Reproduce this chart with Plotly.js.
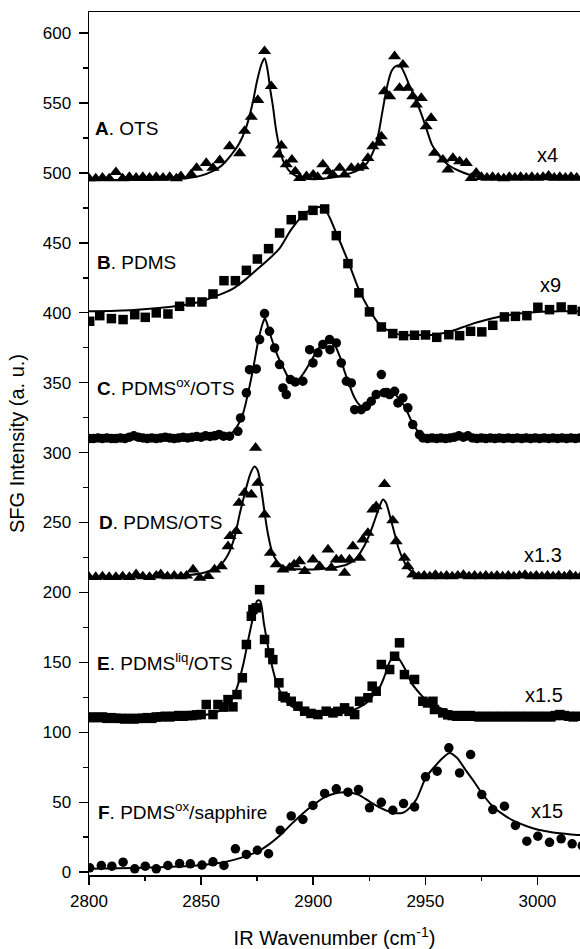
<!DOCTYPE html>
<html>
<head>
<meta charset="utf-8">
<script src="https://cdn.plot.ly/plotly-3.0.1.min.js"></script>
<style>
html,body{margin:0;padding:0;background:#fff;}
#chart{width:580px;height:949px;}
</style>
</head>
<body>
<div id="chart"></div>
<script>
// ---------- data (x = IR wavenumber, y = SFG intensity, offset/scaled as plotted) ----------
const otsPoints = [[2800,496],[2803,496],[2806,496.5],[2809,496],[2812,500.5],[2815,496],[2818,497],[2821,496.5],[2824,497],[2827,496.5],[2830,497],[2833,496.5],[2836,497],[2839,496],[2841,497.5],[2845.6,499],[2848,503.5],[2852.3,507],[2855.3,503.5],[2858.3,509],[2862.7,519],[2867.2,514],[2869.4,530],[2872.4,540],[2875.3,552],[2878.3,587],[2881.3,562],[2884.5,513],[2885.8,519.5],[2888,506],[2890.5,509.4],[2892,501],[2894,496.3],[2897,497.5],[2900,498.7],[2902,497],[2904.3,506],[2906.6,501],[2908.8,498.7],[2911.8,503.5],[2914,498.7],[2917,503.5],[2920,503.5],[2922.2,504.6],[2924.4,510.6],[2926.6,519],[2929.6,521.4],[2930.4,526],[2931.8,558.3],[2934.1,554.7],[2936.3,583.3],[2938.5,560.7],[2940,577.3],[2942.2,560.7],[2944.4,554.7],[2946,548.8],[2948.2,553.5],[2950.4,533.2],[2952.6,539.2],[2954.1,514.2],[2957.8,509.4],[2960.1,502.3],[2962.3,510.6],[2965.3,508.2],[2968.3,507],[2970.5,496.3],[2972.7,500],[2975,497],[2977.5,496.5],[2980,497],[2982.5,496.5],[2985,496],[2987.5,497],[2990,496.5],[2992.5,497],[2995,496.5],[2997.5,497],[3000,496.5],[3002.5,497],[3005,498],[3007.5,496.5],[3010,497],[3012.5,496.5],[3015,497],[3017.5,496.5]];
const otsFit = [[2800,495],[2830,495],[2845,496.5],[2850,498],[2855,501],[2859,505],[2863,512],[2867,521],[2870,532],[2873,550],[2875,566],[2877,578],[2878.3,582],[2879.5,575],[2881,558],[2882,548],[2883.5,530],[2885,518],[2886.5,509],[2889,502],[2892,498],[2896,496],[2900,495.5],[2905,496],[2910,497],[2915,499],[2920,502],[2924,507],[2927,516],[2929,527],[2931,545],[2933,562],[2935,573],[2937,576.5],[2939,576],[2941,570],[2943,562],[2945,555],[2948,543],[2950.4,532],[2953,520],[2956.3,512],[2960,506],[2965,501.5],[2970,498.5],[2975,497],[2985,496],[3000,495.5],[3020,495.5]];

const pdmsPoints = [[2800.3,393.9],[2804.8,397.9],[2810,395.8],[2815.2,395.1],[2820.4,398.6],[2825.1,396.7],[2830,399.9],[2835.2,399.1],[2840.4,404.6],[2845.2,407.7],[2850.4,407.7],[2855.3,413.4],[2860.2,422.9],[2865.3,422.9],[2870.2,430.3],[2875.1,438.4],[2880.1,445.8],[2885,457],[2890.2,466.5],[2895.4,469.4],[2899.9,473.2],[2905.1,474.2],[2910.3,455.1],[2915.5,435.1],[2920.4,414.2],[2925.1,400.6],[2930.4,389.8],[2935.5,385.1],[2940.3,383.6],[2945.2,383.9],[2950.1,384.1],[2955.1,382.4],[2960.5,384.3],[2965.3,383.6],[2970.2,386.7],[2975.2,386.3],[2980.1,391],[2985.3,397],[2990.2,397.4],[2995.3,397.9],[3000.2,403.9],[3005.4,402.2],[3010.6,404.1],[3015.5,402.2],[3020,401]];
const pdmsFit = [[2800,401],[2820,402],[2840,405],[2850,408],[2855,411],[2860,414],[2865,418],[2870,424],[2875,431],[2880,438],[2885,446],[2890,459],[2895,469],[2900,474.5],[2903,475.5],[2906,472],[2910.3,457],[2915.5,437],[2920.4,416.5],[2925.1,402],[2929.6,391.5],[2935.5,385.8],[2940,384],[2948,384],[2955,384.5],[2962,387],[2970,391.5],[2980,396],[2990,399],[3000,400.5],[3010,401],[3020,401]];

const pdmsOxOtsPoints = [[2800,310],[2802,310],[2804,310.5],[2806,310],[2808,310.5],[2810,310],[2812,310],[2814,310.5],[2816,310],[2818,311],[2820,312],[2822,311],[2824,310.5],[2826,310],[2828,310.5],[2830,310],[2832,310.5],[2834,311],[2836,310.5],[2838,310],[2840,310.5],[2842,311],[2844,310.5],[2846,311],[2848,311.5],[2850,311],[2852,312],[2854,311.5],[2856,312],[2858,313],[2860,311.7],[2862.7,311.7],[2866.4,315.2],[2867.6,324.8],[2870.2,342.7],[2871.6,359.3],[2874.6,359.8],[2876.1,380.8],[2878.3,399.4],[2880.5,386.7],[2882.8,374.8],[2885,362.9],[2886.5,346.2],[2888,341.5],[2889.8,352.2],[2892,350.5],[2895.4,351],[2898.4,373.6],[2899.9,364.1],[2902.1,371.3],[2904.3,377.2],[2907.3,380.8],[2907.5,373.6],[2910.3,378.4],[2912.5,364.1],[2914.8,351],[2917,349.8],[2918.5,330.7],[2921.4,330.7],[2923.7,333.1],[2925.9,336.7],[2928.1,341.5],[2930.4,355.8],[2931.8,342.7],[2934.1,341.5],[2936.3,343.8],[2937.8,335.5],[2940,339.1],[2942.2,332],[2944.4,320],[2947.4,312.9],[2948.9,310.5],[2951,310],[2953,310.5],[2955,310],[2957,310.5],[2959,310],[2961,310.5],[2963,311],[2965,312],[2967,311],[2969,312],[2971,310.5],[2973,310],[2975,310.5],[2977,310],[2979,310.5],[2981,310],[2983,310.5],[2985,310],[2987,310.5],[2989,310],[2991,310.5],[2993,310],[2995,310.5],[2997,310],[2999,310.5],[3001,310],[3003,310.5],[3005,310],[3007,310.5],[3009,310],[3011,310.5],[3013,310],[3015,310.5],[3017,310],[3019,310.5]];
const pdmsOxOtsFit = [[2800,310],[2850,310],[2858,310.5],[2862,312],[2865,316],[2868.7,328],[2871,343],[2873.1,359],[2875.5,380],[2877.6,393],[2878.5,396],[2880.5,386],[2883,374],[2885,366],[2887.5,358],[2889.5,352],[2892,350],[2895.4,356],[2898.5,364],[2901.4,372],[2904,378],[2906.5,380.5],[2908.8,379],[2911.8,369],[2914,358],[2916.2,348],[2918.5,339],[2920.7,334],[2923,333],[2925.1,336],[2928,341],[2931,345],[2933.5,345.5],[2935.5,343.5],[2938,339],[2940,335],[2942,329],[2943.7,323],[2945.5,318],[2947.4,313.5],[2950,310.5],[2955,310],[3020,310]];

const pdmsOtsPoints = [[2800,211],[2803,211],[2806,211.5],[2809,211],[2812,211],[2815,211.5],[2818,211],[2821,213],[2824,211.5],[2827,211],[2830,212],[2832,213],[2835,211.5],[2838,212],[2841,211.5],[2843.5,212],[2846.4,216.4],[2849.4,210.4],[2853.1,211.6],[2856,216.4],[2859,218.7],[2862,233],[2862.9,240.2],[2865.7,243.8],[2866.9,264],[2869.4,271.2],[2872.4,270],[2874.3,303.4],[2875.3,278.3],[2878.3,255.7],[2880.9,228.3],[2883.5,220],[2886.5,216.4],[2889.5,217.6],[2891.5,220],[2893.9,222.3],[2896.2,215.2],[2899.9,223.5],[2902.9,218.7],[2906.6,230.7],[2908.1,217.6],[2910.3,223.5],[2912.5,223.5],[2914,214],[2916.2,223.5],[2917.7,233],[2920.7,224.7],[2922.2,237.8],[2924.4,242.6],[2926.6,259.3],[2928.1,261.6],[2931.8,277.4],[2935.5,251.5],[2937,236.6],[2940.7,224.7],[2942.2,218.7],[2944.4,212.8],[2947,211.5],[2949.5,212],[2952,211.5],[2954.5,212.5],[2957,211.5],[2959.5,212],[2962,211.5],[2964.5,212],[2967,212.5],[2969.5,211.5],[2972,212],[2974.5,211.5],[2977,212],[2979.5,211.5],[2982,212],[2984.5,211.5],[2987,212],[2989.5,211.5],[2992,212],[2994.5,212.5],[2997,211.5],[2999.5,212],[3002,211.5],[3004.5,212],[3007,211.5],[3009.5,212],[3012,211.5],[3014.5,212.5],[3017,211.5],[3019.5,212]];
const pdmsOtsFit = [[2800,210.5],[2830,211],[2845,212.5],[2852,214.5],[2858,218.7],[2862,227],[2865,240],[2867.2,256],[2870,274],[2872,285],[2873.8,290],[2875.3,287],[2877,272],[2878.5,255],[2879.8,242],[2881.5,230],[2883.5,223],[2886,219],[2890,217],[2895,216.5],[2900,216.5],[2905,217],[2910,218],[2915,220],[2919,224],[2922,231],[2925,241],[2927.5,252],[2929.5,261],[2931.1,266.4],[2932.5,264],[2934,256],[2936,244],[2938,232],[2940,224],[2942,218],[2945,214],[2950,212],[2960,211.2],[3020,211]];

const pdmsLiqOtsPoints = [[2800,110.5],[2802,111],[2804,110.5],[2806,111],[2808,110],[2810,110.5],[2812,110],[2814,110],[2816,109.5],[2818,110],[2820,109.5],[2822,110],[2824,110],[2826,110.5],[2828,110],[2830,111],[2832,111],[2834,111.5],[2836,111],[2838,111.5],[2840,112],[2842,111.5],[2844,112],[2846,112],[2848,112.5],[2850,112.7],[2852.3,119.9],[2855.3,112.7],[2857.5,119.9],[2860,118],[2862,123.4],[2864.2,118.2],[2866,127],[2868.4,139],[2870.2,162.8],[2872.4,183],[2873.1,187.8],[2874.6,189],[2876.1,202],[2878.3,166.4],[2880.5,156.8],[2882,152],[2884.7,135.4],[2886.5,125.8],[2887.5,124.7],[2890.2,122.2],[2893.2,118.7],[2896.2,115.1],[2899,113.5],[2902.1,112.7],[2905.8,115.1],[2908.8,113.9],[2911,115],[2914,117.5],[2916,115],[2918.5,112.7],[2920.7,122.2],[2924.4,124.7],[2926.3,133],[2928.1,129.4],[2930.4,148.5],[2934.1,144.9],[2936.3,154.4],[2938.5,164],[2940.7,141.3],[2945.2,137.8],[2948.9,122.2],[2951,121],[2953.4,122.2],[2954.1,116.3],[2957.8,113.9],[2960,112.5],[2962,112],[2964,111.5],[2966,112],[2968,111.5],[2970,112],[2972,111.5],[2974,111],[2976,111.5],[2978,111],[2980,111.5],[2982,111],[2984,111.5],[2986,111],[2988,111.5],[2990,111],[2992,111.5],[2994,111],[2996,111.5],[2998,111],[3000,111.5],[3002,111],[3004,111.5],[3006,111],[3008,112],[3010,112.7],[3012,112],[3014,111.5],[3016,111],[3018,111.5]];
const pdmsLiqOtsFit = [[2800,110.5],[2820,109.5],[2840,110.5],[2850,112],[2856,114],[2860,117],[2863,122],[2866,132],[2869,150],[2871,166],[2873,181],[2875,194],[2876.3,194],[2878,178],[2880,160],[2882,145],[2884,134],[2887,124],[2890,119],[2895,115],[2900,113],[2905,112.5],[2910,113],[2915,114.5],[2920,117.5],[2923.7,121],[2926.5,126],[2929.6,132],[2932,141],[2934,150],[2936.3,155.5],[2938,153],[2941.5,143.7],[2944,135],[2947.4,128],[2951,122],[2954.9,118.5],[2960,115.5],[2965.3,113.9],[2975,112.5],[2990,111.5],[3020,111]];

const pdmsOxSapphirePoints = [[2800.3,3.1],[2805.5,4.8],[2810.2,4.3],[2815.2,7.2],[2820.4,2.4],[2825.1,4.3],[2830,2.4],[2835.2,4.8],[2840.4,6.2],[2845.2,6],[2850.4,5.1],[2855.3,7.4],[2860.2,4.8],[2865.3,16.7],[2870.2,12.7],[2875.1,15.7],[2880.1,13.2],[2885.3,30],[2890.2,40.2],[2895.4,37.7],[2899.9,47.7],[2905.1,56.3],[2910.3,59.6],[2915.5,57.2],[2920.2,59.1],[2925.1,46],[2930.4,50],[2935.5,44.3],[2940.3,49.1],[2945.2,46.7],[2950.1,68.2],[2955.3,72.2],[2960.5,88.9],[2965.3,71],[2970.2,84.1],[2975.2,55.5],[2980.1,44.8],[2985.3,47.2],[2990.2,33.4],[2995.3,22.2],[3000.2,25.7],[3005.4,21.4],[3010.6,23.9],[3015.5,20.3],[3020,19]];
const pdmsOxSapphireFit = [[2800,2.5],[2820,3],[2840,4],[2850,5],[2858,6.5],[2865,9],[2870,11.5],[2875,14.5],[2880,19.5],[2885,26],[2890,34],[2895,41.5],[2900,48],[2905,53.5],[2910,56.5],[2915,57.2],[2920,55.5],[2925,50.7],[2930,46],[2935.5,42.5],[2940,42.5],[2943,46],[2946,52],[2950.4,68],[2955,77],[2958,82],[2960.8,85.3],[2964,82],[2968,73],[2971.2,66],[2975,57],[2980,47.2],[2985,41],[2989,37],[2995,33],[3000,30.5],[3005,29],[3010,27.8],[3015,27],[3020,26.5]];

// panel labels and scale factors
const panelLabels = ['<b>A</b>. OTS','<b>B</b>. PDMS','<b>C</b>. PDMS<sup>ox</sup>/OTS','<b>D</b>. PDMS/OTS','<b>E</b>. PDMS<sup>liq</sup>/OTS','<b>F</b>. PDMS<sup>ox</sup>/sapphire'];
const panelLabelY = [532, 436, 347, 250, 150, 44];
const panelLabelX = [2802, 2802.5, 2802.5, 2803.5, 2802.5, 2803];
const scaleLabels = ['x4','x9','','x1.3','x1.5','x15'];
const scaleLabelY = [513, 420, 0, 227, 127, 44];
const scaleLabelX = [3004.6, 3005.8, 0, 3002.7, 3003.1, 3004.3];

const markerSymbols = ['triangle-up','square','circle','triangle-up','square','circle'];
const markerSizes = [11.5, 9.5, 9.5, 11.5, 9.5, 9.5];

// ---------- build ----------
const pointSets = [otsPoints, pdmsPoints, pdmsOxOtsPoints, pdmsOtsPoints, pdmsLiqOtsPoints, pdmsOxSapphirePoints];
const fitSets = [otsFit, pdmsFit, pdmsOxOtsFit, pdmsOtsFit, pdmsLiqOtsFit, pdmsOxSapphireFit];
const FONT = 'Liberation Sans, Arial, Helvetica, sans-serif';

const traces = [];
pointSets.forEach((pts, i) => {
  traces.push({
    type: 'scatter', mode: 'markers',
    x: pts.map(p => p[0]), y: pts.map(p => p[1]),
    marker: {symbol: markerSymbols[i], size: markerSizes[i], color: '#000', line: {width: 0}},
    hoverinfo: 'skip', showlegend: false
  });
});
fitSets.forEach((pts) => {
  traces.push({
    type: 'scatter', mode: 'lines',
    x: pts.map(p => p[0]), y: pts.map(p => p[1]),
    line: {color: '#000', width: 2, shape: 'spline', smoothing: 0.8},
    hoverinfo: 'skip', showlegend: false
  });
});

const annotations = [];
panelLabels.forEach((t, i) => {
  annotations.push({x: panelLabelX[i], y: panelLabelY[i], xref: 'x', yref: 'y', text: t,
    showarrow: false, xanchor: 'left', yanchor: 'middle', font: {family: FONT, size: 19, color: '#000'}});
});
scaleLabels.forEach((t, i) => {
  if (!t) return;
  annotations.push({x: scaleLabelX[i], y: scaleLabelY[i], xref: 'x', yref: 'y', text: t,
    showarrow: false, xanchor: 'center', yanchor: 'middle', font: {family: FONT, size: 20, color: '#000'}});
});

const layout = {
  width: 580, height: 949,
  margin: {l: 89, r: 0, t: 12, b: 74},
  paper_bgcolor: '#fff', plot_bgcolor: '#fff',
  font: {family: FONT, color: '#000'},
  showlegend: false,
  xaxis: {
    range: [2800, 3019], tick0: 2800, dtick: 50,
    ticks: 'outside', ticklen: 8, tickwidth: 1.5, tickcolor: '#000',
    minor: {ticks: 'outside', dtick: 25, ticklen: 4, tickwidth: 1.5, tickcolor: '#000'},
    showline: true, linewidth: 1.5, linecolor: '#000', mirror: true,
    showgrid: false, zeroline: false,
    ticklabelstandoff: 2,
    tickfont: {family: FONT, size: 17, color: '#000', weight: 'normal'},
    title: {text: 'IR Wavenumber (cm<sup>-1</sup>)', font: {family: FONT, size: 20, color: '#000'}, standoff: 22}
  },
  yaxis: {
    range: [-2, 615], tick0: 0, dtick: 50,
    ticks: 'outside', ticklen: 9, tickwidth: 1.5, tickcolor: '#000',
    minor: {ticks: 'outside', dtick: 25, ticklen: 5, tickwidth: 1.5, tickcolor: '#000'},
    showline: true, linewidth: 1.5, linecolor: '#000', mirror: false,
    showgrid: false, zeroline: false,
    ticklabelstandoff: 4,
    tickfont: {family: FONT, size: 17, color: '#000', weight: 'normal'},
    title: {text: 'SFG Intensity (a. u.)', font: {family: FONT, size: 20, color: '#000'}, standoff: 12}
  },
  annotations: annotations
};

Plotly.newPlot('chart', traces, layout, {staticPlot: true, displayModeBar: false});
</script>
</body>
</html>
